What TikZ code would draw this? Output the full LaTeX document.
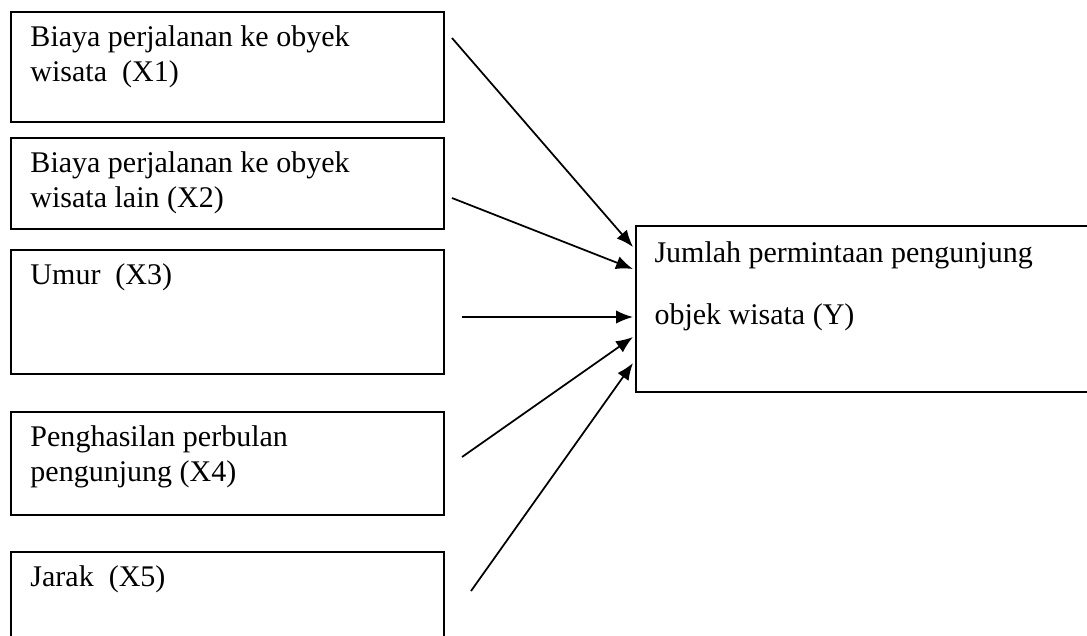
\documentclass[tikz,border=0pt]{standalone}
\usepackage{fontspec}
\setmainfont{Liberation Serif}
\usetikzlibrary{arrows.meta, positioning}

\begin{document}
\begin{tikzpicture}[x=0.4pt, y=-0.4pt,
    box/.style={draw, line width=0.75pt, inner sep=0pt, anchor=north west, minimum width=173.2pt},
    lbl/.style={inner sep=0pt, anchor=north west, align=left, font=\fontsize{12pt}{14.2pt}\selectfont},
    arr/.style={-{Latex[length=6.8pt, width=5.4pt]}, line width=0.7pt}]
    \useasboundingbox (0,0) rectangle (1087,635);

    % left boxes
    \node[box, minimum height=44pt] (x1) at (10,11) {};
    \node[box, minimum height=36.4pt] (x2) at (10,137) {};
    \node[box, minimum height=49.6pt] (x3) at (10,249) {};
    \node[box, minimum height=41.2pt] (x4) at (10,411) {};
    \node[box, minimum height=39.6pt] (x5) at (10,551) {};
    % right box
    \node[box, minimum width=184pt, minimum height=66.4pt] (y) at (635,225) {};

    \node[lbl] (t1) at ([shift={(20,14)}]x1.north west) {Biaya perjalanan ke obyek\\wisata~ (X1)};
    \node[lbl] (t2) at ([shift={(20,14)}]x2.north west) {Biaya perjalanan ke obyek\\wisata lain (X2)};
    \node[lbl] (t3) at ([shift={(20,14)}]x3.north west) {Umur~ (X3)};
    \node[lbl] (t4) at ([shift={(20,14)}]x4.north west) {Penghasilan perbulan\\pengunjung (X4)};
    \node[lbl] (t5) at ([shift={(20,14)}]x5.north west) {Jarak~ (X5)};
    \node[lbl, font=\fontsize{12pt}{25pt}\selectfont] (ty) at ([shift={(19,16)}]y.north west)
        {Jumlah permintaan pengunjung\\objek wisata (Y)};

    % arrows
    \coordinate (s1) at (452,38);
    \coordinate (s2) at (452,198);
    \coordinate (s3) at (462,317);
    \coordinate (s4) at (462,457);
    \coordinate (s5) at (471,591);
    \coordinate (e1) at ([shift={(-2,22)}]y.north west);
    \coordinate (e2) at ([shift={(-2,44)}]y.north west);
    \coordinate (e3) at ([shift={(-2,92)}]y.north west);
    \coordinate (e4) at ([shift={(-2,112)}]y.north west);
    \coordinate (e5) at ([shift={(-2,138)}]y.north west);
    \foreach \i in {1,...,5}
        \draw[arr] (s\i) -- (e\i);
\end{tikzpicture}
\end{document}
